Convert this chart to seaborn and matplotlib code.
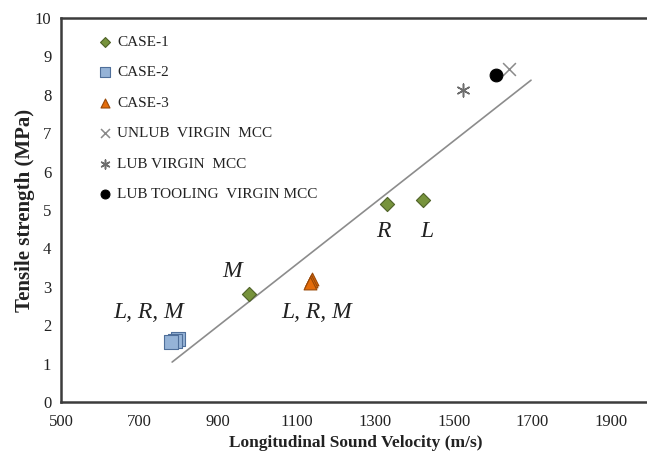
import matplotlib
matplotlib.use("Agg")
import matplotlib.pyplot as plt
import seaborn as sns
import pandas as pd

# ---- data ----
case1_x = [979, 1330, 1422]
case1_y = [2.8, 5.15, 5.25]
case2_x = [798, 790, 781]
case2_y = [1.65, 1.60, 1.55]
case3_x = [1140, 1137, 1134]
case3_y = [3.20, 3.15, 3.10]
unlub_x = [1641]
unlub_y = [8.67]
lub_x = [1524]
lub_y = [8.12]
tool_x = [1608]
tool_y = [8.52]
trend_x = [783, 1697]
trend_y = [1.04, 8.38]

x_ticks = [500, 700, 900, 1100, 1300, 1500, 1700, 1900]
y_ticks = list(range(0, 11))

sns.set_style("white")
plt.rcParams['font.family'] = ['Liberation Serif', 'DejaVu Serif']

fig = plt.figure(figsize=(6.47, 4.54), dpi=100)
ax = fig.add_axes([61/647, 52/454, 589/647, 384/454])

sns.lineplot(x=trend_x, y=trend_y, ax=ax, color="#8c8c8c", linewidth=1.2, zorder=1)

sns.scatterplot(x=case1_x, y=case1_y, ax=ax, marker='D', s=52, color="#77933C",
                edgecolor="#4F6228", linewidth=0.8, label="CASE-1", zorder=3)
sns.scatterplot(x=case2_x, y=case2_y, ax=ax, marker='s', s=95, color="#95B3D7",
                edgecolor="#4F6F9A", linewidth=0.8, label="CASE-2", zorder=3)
sns.scatterplot(x=case3_x, y=case3_y, ax=ax, marker='^', s=85, color="#E46C0A",
                edgecolor="#984807", linewidth=0.8, label="CASE-3", zorder=3)
sns.scatterplot(x=unlub_x, y=unlub_y, ax=ax, marker='x', s=85, color="#8a8a8a",
                linewidth=1.1, label="UNLUB  VIRGIN  MCC", zorder=3)
sns.scatterplot(x=lub_x, y=lub_y, ax=ax, marker=(6, 2, 0), s=85, color="#6e6e6e",
                linewidth=1.1, label="LUB VIRGIN  MCC", zorder=3)
sns.scatterplot(x=tool_x, y=tool_y, ax=ax, marker='o', s=85, color="black",
                edgecolor="black", label="LUB TOOLING  VIRGIN MCC", zorder=3)

# annotations
ann = dict(fontsize=17, style='italic', ha='center', va='center', color='#222222')
ax.text(936, 3.39, "M", **ann)
ax.text(1320, 4.43, "R", **ann)
ax.text(1432, 4.43, "L", **ann)
ax.text(724, 2.34, "L, R, M", **ann)
ax.text(1152, 2.34, "L, R, M", **ann)

ax.set_xlim(500, 2000)
ax.set_ylim(0, 10)
ax.set_xticks(x_ticks)
ax.set_yticks(y_ticks)
ax.tick_params(axis='both', length=0, labelsize=12, colors='#222222')
ax.tick_params(axis='x', pad=9)
ax.tick_params(axis='y', pad=7)
ax.set_xlabel("Longitudinal Sound Velocity (m/s)", fontsize=12.5, fontweight='bold',
              color='#222222', labelpad=3)
ax.set_ylabel("Tensile strength (MPa)", fontsize=15, fontweight='bold',
              color='#222222', labelpad=0)

for side in ['left', 'bottom', 'top']:
    ax.spines[side].set_visible(True)
    ax.spines[side].set_color('#3c3c3c')
    ax.spines[side].set_linewidth(1.8)
ax.spines['right'].set_visible(False)

leg = ax.legend(loc='upper left', bbox_to_anchor=(0.049, 0.972), frameon=False,
                fontsize=11, labelspacing=1.1, handletextpad=0.2, handlelength=1.2,
                markerscale=0.7, borderaxespad=0)
for t in leg.get_texts():
    t.set_color('#222222')

fig.savefig("out.png", dpi=100)
